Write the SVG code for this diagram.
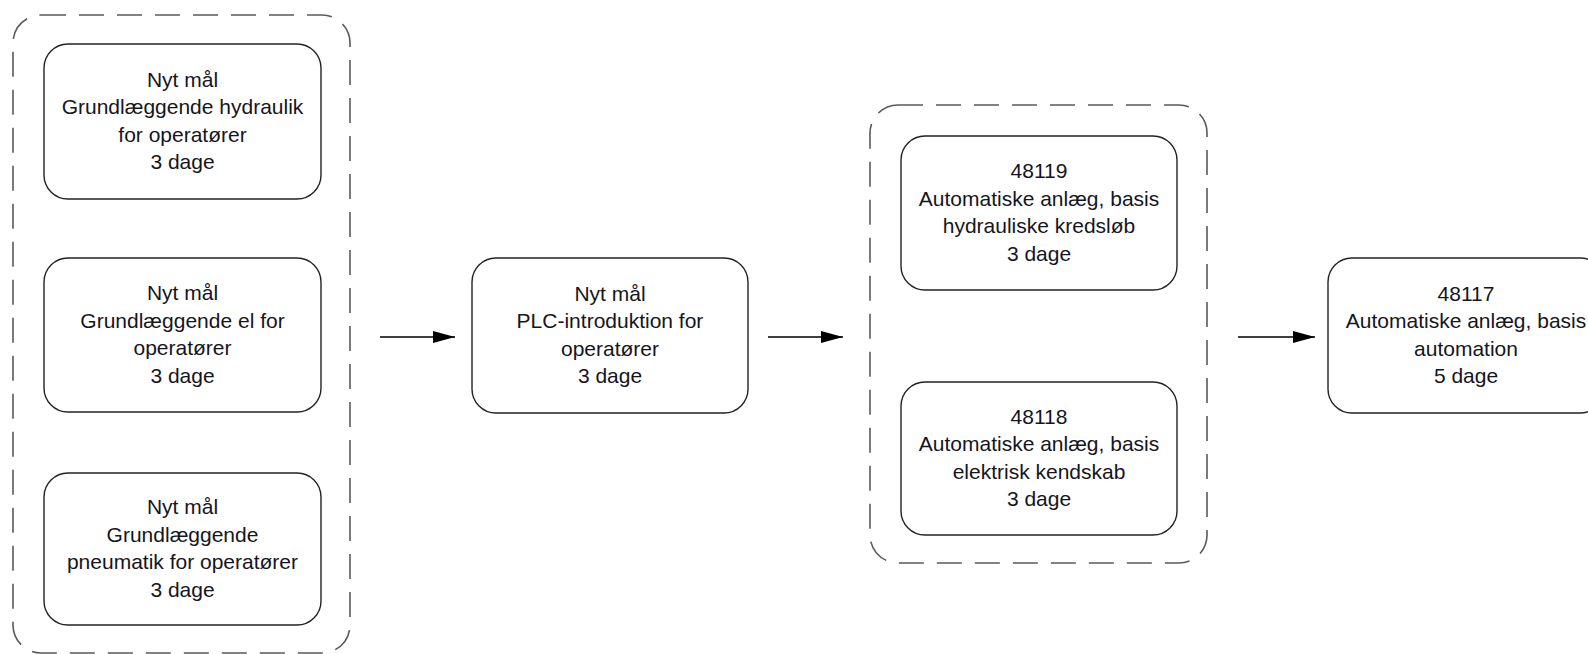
<svg xmlns="http://www.w3.org/2000/svg" width="1588" height="654" viewBox="0 0 1588 654">
<defs>
<style>
.grp{fill:none;stroke:#5a5a5a;stroke-width:1.6;stroke-dasharray:25 13}
.box{fill:#fff;stroke:#222;stroke-width:1.4}
.t{font-family:"Liberation Sans",Arial,sans-serif;font-size:21px;fill:#151520;text-anchor:middle}
.c{stroke:#000;stroke-width:1.6;fill:none}
</style>
<marker id="ah" markerWidth="22" markerHeight="12" refX="22" refY="6" orient="auto" markerUnits="userSpaceOnUse">
<path d="M0,0 L22,6 L0,12 Z" fill="#000"/>
</marker>
</defs>
<rect width="1588" height="654" fill="#fff"/>
<g id="group-left"><rect class="grp" x="13" y="15" width="337" height="638" rx="28"/></g>
<g id="group-right"><rect class="grp" x="870" y="105" width="337" height="458" rx="28"/></g>
<g id="connectors">
<line class="c" x1="380" y1="337" x2="455" y2="337" marker-end="url(#ah)"/>
<line class="c" x1="768" y1="337" x2="843" y2="337" marker-end="url(#ah)"/>
<line class="c" x1="1238" y1="337" x2="1315" y2="337" marker-end="url(#ah)"/>
</g>
<g id="n-hydraulik">
<rect class="box" x="44" y="44" width="277" height="155" rx="24"/>
<text class="t" x="182.5" y="86.5">Nyt mål</text>
<text class="t" x="182.5" y="114">Grundlæggende hydraulik</text>
<text class="t" x="182.5" y="141.5">for operatører</text>
<text class="t" x="182.5" y="169">3 dage</text>
</g>
<g id="n-el">
<rect class="box" x="44" y="258" width="277" height="154" rx="24"/>
<text class="t" x="182.5" y="300">Nyt mål</text>
<text class="t" x="182.5" y="327.5">Grundlæggende el for</text>
<text class="t" x="182.5" y="355">operatører</text>
<text class="t" x="182.5" y="382.5">3 dage</text>
</g>
<g id="n-pneumatik">
<rect class="box" x="44" y="473" width="277" height="152" rx="24"/>
<text class="t" x="182.5" y="514">Nyt mål</text>
<text class="t" x="182.5" y="541.5">Grundlæggende</text>
<text class="t" x="182.5" y="569">pneumatik for operatører</text>
<text class="t" x="182.5" y="596.5">3 dage</text>
</g>
<g id="n-plc">
<rect class="box" x="472" y="258" width="276" height="155" rx="24"/>
<text class="t" x="610" y="300.5">Nyt mål</text>
<text class="t" x="610" y="328">PLC-introduktion for</text>
<text class="t" x="610" y="355.5">operatører</text>
<text class="t" x="610" y="383">3 dage</text>
</g>
<g id="n-48119">
<rect class="box" x="901" y="136" width="276" height="154" rx="24"/>
<text class="t" x="1039" y="178">48119</text>
<text class="t" x="1039" y="205.5">Automatiske anlæg, basis</text>
<text class="t" x="1039" y="233">hydrauliske kredsløb</text>
<text class="t" x="1039" y="260.5">3 dage</text>
</g>
<g id="n-48118">
<rect class="box" x="901" y="382" width="276" height="153" rx="24"/>
<text class="t" x="1039" y="423.5">48118</text>
<text class="t" x="1039" y="451">Automatiske anlæg, basis</text>
<text class="t" x="1039" y="478.5">elektrisk kendskab</text>
<text class="t" x="1039" y="506">3 dage</text>
</g>
<g id="n-48117">
<rect class="box" x="1328" y="258" width="276" height="155" rx="24"/>
<text class="t" x="1466" y="300.5">48117</text>
<text class="t" x="1466" y="328">Automatiske anlæg, basis</text>
<text class="t" x="1466" y="355.5">automation</text>
<text class="t" x="1466" y="383">5 dage</text>
</g>
</svg>
